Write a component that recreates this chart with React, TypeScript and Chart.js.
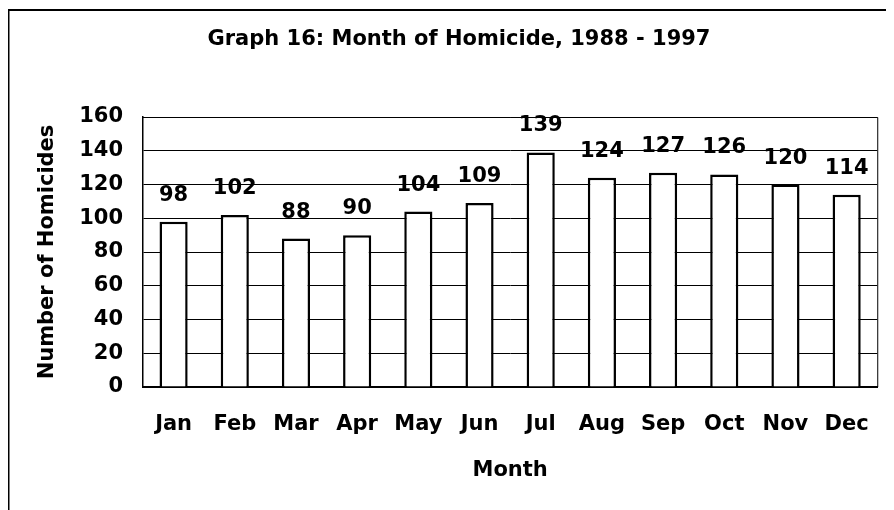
import React, { useEffect, useRef } from "react";
import { Chart, registerables } from "chart.js";

Chart.register(...registerables);

const months = ["Jan", "Feb", "Mar", "Apr", "May", "Jun", "Jul", "Aug", "Sep", "Oct", "Nov", "Dec"];
const homicides = [98, 102, 88, 90, 104, 109, 139, 124, 127, 126, 120, 114];
const chartTitle = "Graph 16: Month of Homicide, 1988 - 1997";
const yAxisTitle = "Number of Homicides";
const xAxisTitle = "Month";
const yMin = 0;
const yMax = 160;
const yStep = 20;

const FONT = "'DejaVu Sans', 'Liberation Sans', Arial, sans-serif";

const decorPlugin = {
  id: "decor",
  beforeDraw(chart: any) {
    const ctx = chart.ctx;
    ctx.save();
    ctx.fillStyle = "#ffffff";
    ctx.fillRect(0, 0, chart.width, chart.height);
    // outer frame (top & left visible)
    ctx.strokeStyle = "#000";
    ctx.lineWidth = 2;
    ctx.beginPath();
    ctx.moveTo(0.5, chart.height);
    ctx.lineTo(0.5, 2);
    ctx.lineTo(chart.width, 2);
    ctx.stroke();
    // title
    ctx.fillStyle = "#000";
    ctx.font = `bold 21px ${FONT}`;
    ctx.textAlign = "center";
    ctx.textBaseline = "alphabetic";
    ctx.fillText(chartTitle, 451, 37);
    ctx.restore();
  },
  afterDatasetsDraw(chart: any) {
    const ctx = chart.ctx;
    const { left, right, top, bottom } = chart.chartArea;
    ctx.save();
    ctx.strokeStyle = "#000";
    ctx.lineWidth = 1;
    ctx.beginPath();
    ctx.moveTo(left, top + 0.5);
    ctx.lineTo(right + 0.5, top + 0.5);
    ctx.lineTo(right + 0.5, bottom);
    ctx.stroke();
    const meta = chart.getDatasetMeta(0);
    const data = chart.data.datasets[0].data;
    ctx.fillStyle = "#000";
    ctx.font = `bold 21px ${FONT}`;
    ctx.textAlign = "center";
    ctx.textBaseline = "alphabetic";
    meta.data.forEach((bar: any, i: number) => {
      ctx.fillText(String(data[i]), bar.x, bar.y - 21);
    });
    ctx.restore();
  },
};

export default function App() {
  const ref = useRef<HTMLCanvasElement>(null);
  useEffect(() => {
    if (!ref.current) return;
    const chart = new Chart(ref.current, {
      type: "bar",
      data: {
        labels: months,
        datasets: [
          {
            data: homicides,
            backgroundColor: "#ffffff",
            borderColor: "#000000",
            borderWidth: 2.5,
            barPercentage: 0.46,
            categoryPercentage: 1,
          },
        ],
      },
      options: {
        responsive: false,
        animation: false,
        layout: { padding: { top: 109, right: 7, left: 0, bottom: 0 } },
        plugins: {
          legend: { display: false },
          title: { display: false },
          tooltip: { enabled: false },
        },
        scales: {
          x: {
            afterFit: (s: any) => {
              s.height = 123;
            },
            grid: { display: false, drawTicks: false },
            border: { display: true, color: "#000", width: 2 },
            ticks: {
              color: "#000",
              padding: 25,
              font: { family: FONT, size: 21, weight: "bold" },
              maxRotation: 0,
              autoSkip: false,
            },
            title: {
              display: true,
              text: xAxisTitle,
              color: "#000",
              font: { family: FONT, size: 21, weight: "bold" },
              padding: { top: 0, bottom: 27 },
            },
          },
          y: {
            min: yMin,
            max: yMax,
            afterFit: (s: any) => {
              s.width = 135;
            },
            grid: { color: "#000", lineWidth: 1, drawTicks: false },
            border: { display: true, color: "#000", width: 1.5 },
            ticks: {
              stepSize: yStep,
              color: "#000",
              padding: 20,
              font: { family: FONT, size: 21, weight: "bold" },
            },
            title: {
              display: true,
              text: yAxisTitle,
              color: "#000",
              font: { family: FONT, size: 21, weight: "bold" },
              padding: { top: 27, bottom: 0 },
            },
          },
        },
      },
      plugins: [decorPlugin],
    });
    return () => chart.destroy();
  }, []);
  return (
    <div style={{ width: 886, height: 502 }}>
      <canvas ref={ref} width={886} height={502} style={{ display: "block" }} />
    </div>
  );
}
